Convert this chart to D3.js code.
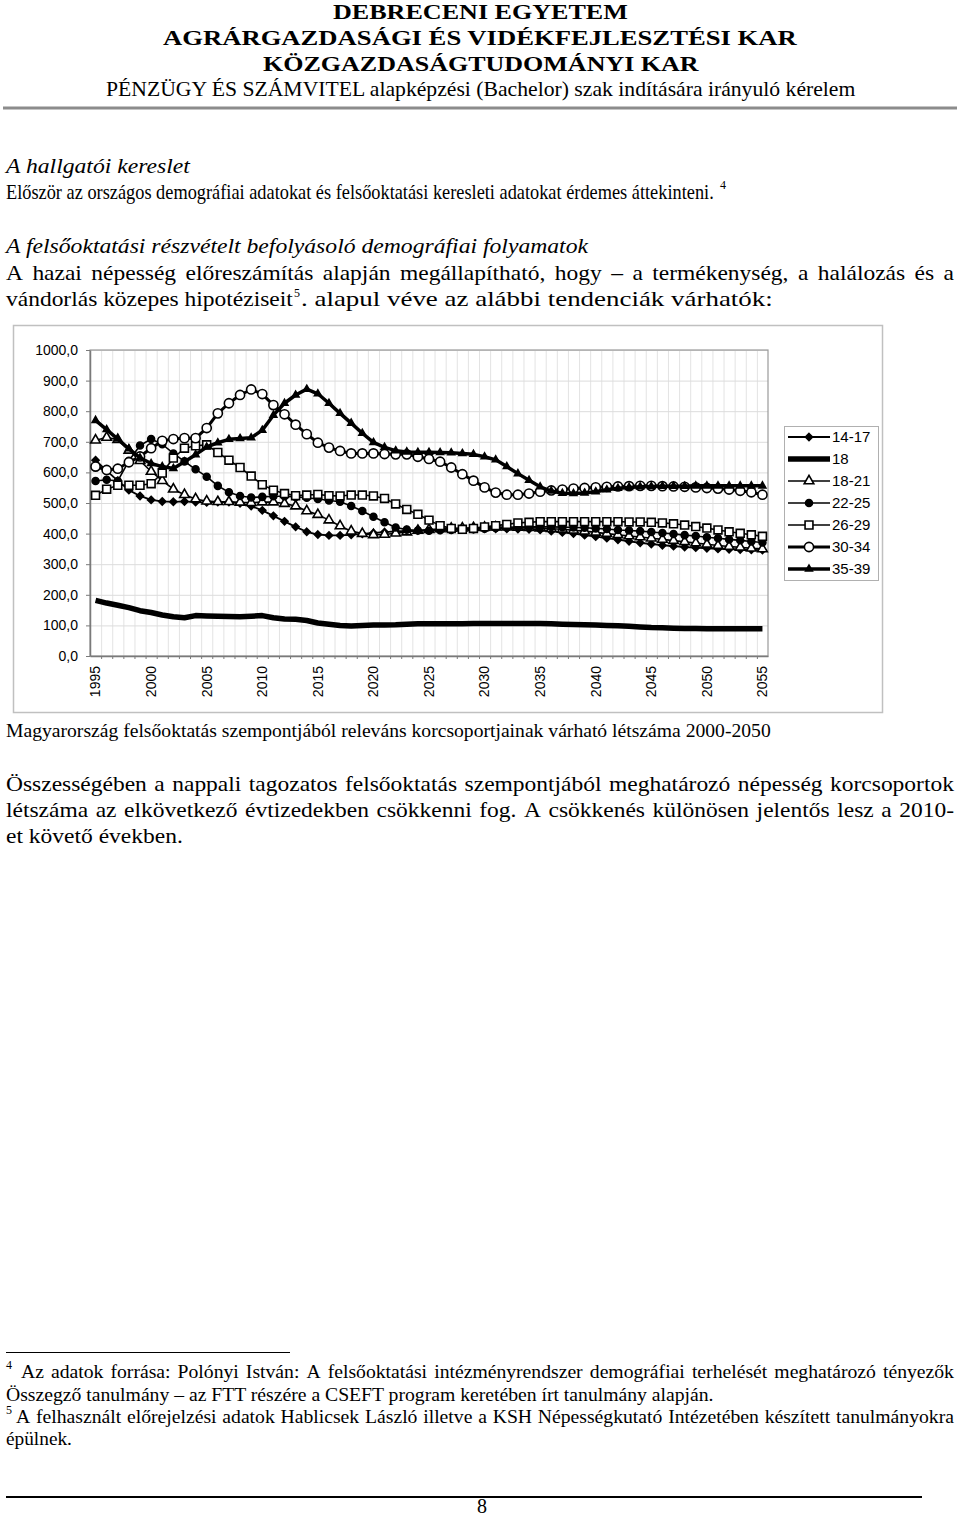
<!DOCTYPE html>
<html>
<head>
<meta charset="utf-8">
<script src="https://cdn.jsdelivr.net/npm/d3@7"></script>
<style>
  body { margin: 0; background: #fff; }
  .serif { font-family: "Liberation Serif", "Times New Roman", serif; }
  .sans { font-family: "Liberation Sans", Arial, sans-serif; }
</style>
</head>
<body>
<svg id="page" width="960" height="1516"></svg>
<script>
// --- data (thousand persons) ---
const years = d3.range(1995, 2056);
const yearLabels = [1995, 2000, 2005, 2010, 2015, 2020, 2025, 2030, 2035, 2040, 2045, 2050, 2055];
const yTicks = [0, 100, 200, 300, 400, 500, 600, 700, 800, 900, 1000];
const seriesNames = ["14-17", "18", "18-21", "22-25", "26-29", "30-34", "35-39"];

const s1417 = [640, 605, 573, 542, 523, 510, 505, 504, 505, 503, 502, 503, 503, 499, 490, 476, 458, 440, 422, 406,
  397, 394, 394, 396, 399, 402, 405, 407, 409, 410, 411, 412, 413, 414, 415, 416, 416, 416, 415, 414,
  412, 408, 404, 400, 395, 390, 385, 380, 375, 370, 366, 362, 359, 356, 354, 352, 350, 349, 348, 347, 346];
const s18 = [182, 173, 166, 158, 148, 142, 134, 128, 125, 132, 131, 130, 129, 128, 130, 132, 125, 121, 120, 116,
  108, 104, 100, 98, 100, 101, 101, 102, 104, 105, 105, 105, 105, 105, 106, 106, 106, 106, 106, 106,
  106, 105, 104, 103, 102, 101, 100, 99, 97, 95, 93, 92, 91, 90, 90, 89, 89, 89, 89, 89, 89];
const s1821 = [705, 714, 707, 672, 638, 603, 573, 545, 527, 513, 506, 504, 504, 502, 501, 503, 503, 498, 490, 474,
  462, 444, 425, 408, 400, 396, 397, 401, 405, 410, 413, 415, 417, 418, 419, 420, 421, 421, 420, 419,
  418, 416, 414, 411, 408, 404, 400, 396, 392, 389, 385, 381, 377, 373, 369, 365, 361, 358, 355, 352, 350];
const s2225 = [572, 576, 572, 638, 688, 709, 692, 662, 636, 610, 586, 556, 535, 523, 518, 520, 522, 522, 520, 517,
  513, 508, 504, 490, 474, 455, 437, 420, 413, 410, 409, 411, 412, 413, 414, 416, 418, 420, 421, 422,
  422, 422, 421, 420, 419, 417, 415, 412, 410, 408, 405, 402, 399, 395, 392, 388, 385, 381, 378, 374, 371];
const s2629 = [525, 545, 558, 558, 558, 563, 598, 647, 679, 687, 690, 665, 640, 616, 588, 560, 542, 531, 524, 526,
  528, 524, 523, 526, 526, 523, 515, 497, 479, 463, 444, 426, 417, 414, 417, 422, 426, 430, 435, 437,
  439, 439, 439, 439, 439, 439, 439, 439, 438, 438, 437, 435, 432, 428, 423, 418, 412, 406, 401, 396, 391];
const s3034 = [619, 608, 612, 633, 652, 679, 703, 709, 712, 712, 745, 793, 826, 853, 871, 856, 820, 790, 756, 725,
  697, 681, 670, 662, 662, 662, 660, 659, 659, 651, 644, 635, 616, 594, 573, 551, 534, 527, 527, 531,
  537, 541, 544, 547, 549, 551, 553, 554, 555, 556, 556, 555, 554, 553, 551, 549, 547, 544, 540, 535, 527];
const s3539 = [770, 740, 709, 677, 648, 629, 619, 613, 635, 658, 683, 697, 708, 711, 713, 738, 787, 826, 853, 872,
  857, 826, 793, 761, 728, 698, 682, 671, 667, 666, 666, 665, 664, 662, 659, 651, 641, 619, 596, 574,
  553, 539, 532, 531, 533, 537, 543, 548, 551, 553, 554, 555, 555, 555, 556, 556, 556, 556, 556, 556, 556];

const seriesValues = [s1417, s18, s1821, s2225, s2629, s3034, s3539];

// how each series is drawn (Excel-like black and white styles)
const seriesStyles = [
  { width: 1.8, symbol: d3.symbolDiamond2, size: 32, fill: "#000" },
  { width: 5.5, symbol: null },
  { width: 1.6, symbol: d3.symbolTriangle, size: 40, fill: "#fff" },
  { width: 1.6, symbol: d3.symbolCircle, size: 38, fill: "#000" },
  { width: 1.6, symbol: d3.symbolSquare, size: 62, fill: "#fff" },
  { width: 3, symbol: d3.symbolCircle, size: 66, fill: "#fff" },
  { width: 3.5, symbol: d3.symbolTriangle, size: 20, fill: "#000" }
];

const svg = d3.select("#page");

// --- page text ---
function styleText(el, t) {
  return el.attr("class", t.sans ? "sans" : "serif")
    .style("font-size", t.size + "px")
    .style("font-weight", t.bold ? "bold" : "normal")
    .style("font-style", t.italic ? "italic" : "normal");
}

// natural width of a string in a given style
function measure(str, t) {
  const el = styleText(svg.append("text"), t).text(str);
  const w = el.node().getComputedTextLength();
  el.remove();
  return w;
}

// text squeezed or widened horizontally (the scan's Times is not quite ours)
function placeWord(str, t, x, yPos, width) {
  const sx = width ? width / measure(str, t) : 1;
  return styleText(svg.append("text"), t)
    .attr("transform", `translate(${x},${yPos}) scale(${sx},1)`)
    .attr("text-anchor", t.anchor || "start")
    .text(str);
}

function addText(t) {
  return placeWord(t.text, t, t.x, t.y, t.len);
}

// justified line: words widened by the factor of a known line, gaps fill the rest
function addJustified(t) {
  const words = t.text.split(" ");
  const k = widthFactor[t.size];
  const widths = words.map(w => measure(w, t) * k);
  const gap = (t.len - d3.sum(widths)) / (words.length - 1);
  let pos = t.x;
  words.forEach((w, i) => {
    placeWord(w, t, pos, t.y, widths[i]);
    pos += widths[i] + gap;
  });
}

const widthFactor = {
  21: 287 / measure("vándorlás közepes hipotéziseit", { size: 21 }),
  18: 708 / measure("Összegző tanulmány – az FTT részére a CSEFT program keretében írt tanulmány alapján.", { size: 18 })
};

const pageLines = [
  { text: "DEBRECENI EGYETEM", x: 333, y: 19, size: 21, bold: true, len: 295 },
  { text: "AGRÁRGAZDASÁGI ÉS VIDÉKFEJLESZTÉSI KAR", x: 163, y: 45, size: 22, bold: true, len: 634 },
  { text: "KÖZGAZDASÁGTUDOMÁNYI KAR", x: 263, y: 71, size: 22, bold: true, len: 436 },
  { text: "PÉNZÜGY ÉS SZÁMVITEL alapképzési (Bachelor) szak indítására irányuló kérelem", x: 106, y: 96, size: 21, len: 750 },
  { text: "A hallgatói kereslet", x: 6, y: 173, size: 21, italic: true, len: 184 },
  { text: "Először az országos demográfiai adatokat és felsőoktatási keresleti adatokat érdemes áttekinteni.", x: 6, y: 199, size: 21, len: 708 },
  { text: "4", x: 720, y: 189, size: 12 },
  { text: "A felsőoktatási részvételt befolyásoló demográfiai folyamatok", x: 6, y: 253, size: 21, italic: true, len: 582 },
  { text: "vándorlás közepes hipotéziseit", x: 6, y: 306, size: 21, len: 287 },
  { text: "5", x: 294, y: 297, size: 12 },
  { text: ". alapul véve az alábbi tendenciák várhatók:", x: 301, y: 306, size: 21, len: 472 },
  { text: "Magyarország felsőoktatás szempontjából releváns korcsoportjainak várható létszáma 2000-2050", x: 6, y: 737, size: 18, len: 765 },
  { text: "et követő években.", x: 6, y: 843, size: 21, len: 177 },
  { text: "4", x: 6, y: 1369, size: 12 },
  { text: "Összegző tanulmány – az FTT részére a CSEFT program keretében írt tanulmány alapján.", x: 6, y: 1401, size: 18, len: 708 },
  { text: "5", x: 6, y: 1414, size: 12 },
  { text: "épülnek.", x: 6, y: 1445, size: 18, len: 66 },
  { text: "8", x: 482, y: 1513, size: 20, anchor: "middle" }
];
pageLines.forEach(addText);

const justifiedLines = [
  { text: "A hazai népesség előreszámítás alapján megállapítható, hogy – a termékenység, a halálozás és a", x: 6, y: 280, size: 21, len: 948 },
  { text: "Összességében a nappali tagozatos felsőoktatás szempontjából meghatározó népesség korcsoportok", x: 6, y: 791, size: 21, len: 948 },
  { text: "létszáma az elkövetkező évtizedekben csökkenni fog. A csökkenés különösen jelentős lesz a 2010-", x: 6, y: 817, size: 21, len: 948 },
  { text: "Az adatok forrása: Polónyi István: A felsőoktatási intézményrendszer demográfiai terhelését meghatározó tényezők", x: 21, y: 1378, size: 18, len: 933 },
  { text: "A felhasznált előrejelzési adatok Hablicsek László illetve a KSH Népességkutató Intézetében készített tanulmányokra", x: 16, y: 1423, size: 18, len: 938 }
];
justifiedLines.forEach(addJustified);

// rules
svg.append("line").attr("x1", 3).attr("x2", 957).attr("y1", 108).attr("y2", 108)
  .attr("stroke", "#8c8c8c").attr("stroke-width", 3);
svg.append("line").attr("x1", 6).attr("x2", 290).attr("y1", 1352.5).attr("y2", 1352.5)
  .attr("stroke", "#000").attr("stroke-width", 1);
svg.append("line").attr("x1", 6).attr("x2", 922).attr("y1", 1497).attr("y2", 1497)
  .attr("stroke", "#000").attr("stroke-width", 2);

// --- chart ---
const chartBox = { x: 13.5, y: 325.5, w: 869, h: 387 };
const plot = { left: 90, right: 768, top: 350, bottom: 656 };

svg.append("rect")
  .attr("x", chartBox.x).attr("y", chartBox.y)
  .attr("width", chartBox.w).attr("height", chartBox.h)
  .attr("fill", "#fff").attr("stroke", "#c0c0c0").attr("stroke-width", 1.5);

const x = d3.scaleBand().domain(years).range([plot.left, plot.right]).padding(0);
const y = d3.scaleLinear().domain([0, 1000]).range([plot.bottom, plot.top]);
const cx = d => x(d) + x.bandwidth() / 2;

const g = svg.append("g").attr("class", "chart");

// gridlines
g.append("g").selectAll("line")
  .data(years.slice(1))
  .join("line")
  .attr("x1", d => x(d) + 0.5).attr("x2", d => x(d) + 0.5)
  .attr("y1", plot.top).attr("y2", plot.bottom)
  .attr("stroke", "#e3e3e3").attr("stroke-width", 1);

g.append("g").selectAll("line")
  .data(yTicks.slice(1))
  .join("line")
  .attr("x1", plot.left).attr("x2", plot.right)
  .attr("y1", d => y(d) + 0.5).attr("y2", d => y(d) + 0.5)
  .attr("stroke", "#dcdcdc").attr("stroke-width", 1);

// plot frame
g.append("rect")
  .attr("x", plot.left).attr("y", plot.top)
  .attr("width", plot.right - plot.left).attr("height", plot.bottom - plot.top)
  .attr("fill", "none").attr("stroke", "#9a9a9a").attr("stroke-width", 1.2);

// y axis
const yAxis = g.append("g")
  .attr("transform", `translate(${plot.left},0)`)
  .call(d3.axisLeft(y).tickValues(yTicks).tickSize(4).tickSizeOuter(0)
    .tickFormat(d => d3.format(".1f")(d).replace(".", ",")));
yAxis.select(".domain").attr("stroke", "#7a7a7a").attr("stroke-width", 1.5);
yAxis.selectAll(".tick line").attr("stroke", "#7a7a7a");
yAxis.selectAll("text")
  .attr("class", "sans")
  .attr("x", -12)
  .style("font-size", "14px")
  .attr("fill", "#000");

// x axis: category ticks between years, labels every five years
const xAxis = g.append("g")
  .attr("transform", `translate(0,${plot.bottom})`)
  .call(d3.axisBottom(x).tickValues(yearLabels).tickSize(0).tickSizeOuter(0));
xAxis.select(".domain").attr("stroke", "#7a7a7a").attr("stroke-width", 1.5);
xAxis.selectAll("text")
  .attr("class", "sans")
  .style("font-size", "14px")
  .attr("fill", "#000")
  .attr("text-anchor", "end")
  .attr("transform", "rotate(-90)")
  .attr("x", -10)
  .attr("y", 0)
  .attr("dy", "0.35em");

g.append("g").selectAll("line")
  .data(years.slice(1))
  .join("line")
  .attr("x1", d => x(d) + 0.5).attr("x2", d => x(d) + 0.5)
  .attr("y1", plot.bottom).attr("y2", plot.bottom + 3)
  .attr("stroke", "#7a7a7a").attr("stroke-width", 1);

// series: line first, then its markers
const line = d3.line().x((d, i) => cx(years[i])).y(d => y(d));

seriesValues.forEach((vals, si) => {
  const st = seriesStyles[si];
  const sg = g.append("g").attr("class", "series s" + si);
  sg.append("path")
    .attr("d", line(vals))
    .attr("fill", "none")
    .attr("stroke", "#000")
    .attr("stroke-width", st.width)
    .attr("stroke-linejoin", "round");
  if (st.symbol) {
    const sym = d3.symbol().type(st.symbol).size(st.size);
    sg.selectAll("path.m")
      .data(vals)
      .join("path")
      .attr("class", "m")
      .attr("d", sym)
      .attr("transform", (d, i) => `translate(${cx(years[i])},${y(d)})`)
      .attr("fill", st.fill)
      .attr("stroke", "#000")
      .attr("stroke-width", 1.6);
  }
});

// --- legend ---
const legend = svg.append("g").attr("class", "legend");
legend.append("rect")
  .attr("x", 784.5).attr("y", 426.5).attr("width", 94).attr("height", 154)
  .attr("fill", "#fff").attr("stroke", "#b0b0b0").attr("stroke-width", 1);

const item = legend.selectAll("g.item")
  .data(seriesNames)
  .join("g")
  .attr("class", "item")
  .attr("transform", (d, i) => `translate(0,${437 + i * 22})`);

item.append("line")
  .attr("x1", 788).attr("x2", 830).attr("y1", 0).attr("y2", 0)
  .attr("stroke", "#000")
  .attr("stroke-width", (d, i) => seriesStyles[i].width);

item.filter((d, i) => seriesStyles[i].symbol)
  .append("path")
  .attr("d", d => {
    const st = seriesStyles[seriesNames.indexOf(d)];
    return d3.symbol().type(st.symbol).size(st.size)();
  })
  .attr("transform", "translate(809,0)")
  .attr("fill", d => seriesStyles[seriesNames.indexOf(d)].fill)
  .attr("stroke", "#000")
  .attr("stroke-width", 1.6);

item.append("text")
  .attr("class", "sans")
  .attr("x", 832)
  .attr("y", 0)
  .attr("dy", "0.35em")
  .style("font-size", "15px")
  .text(d => d);
</script>
</body>
</html>
